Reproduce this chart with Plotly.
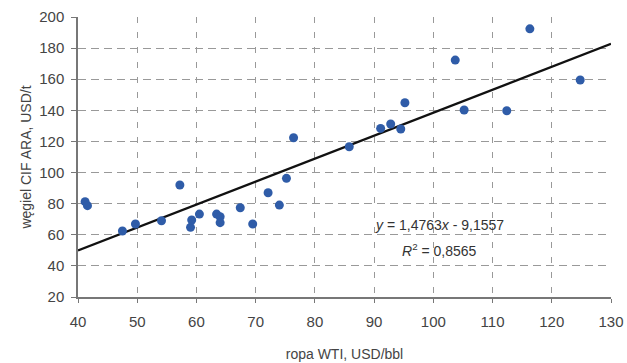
import plotly.graph_objects as go

# Data
oil_wti = [41.2, 41.6, 47.5, 49.7, 54.1, 57.2, 59.0, 59.2, 60.5, 63.4, 64.0, 64.0,
           67.4, 69.5, 72.1, 74.0, 75.2, 76.4, 85.8, 91.1, 92.8, 94.5, 95.2,
           103.7, 105.2, 112.4, 116.3, 124.8]
coal_cif = [81.3, 78.7, 62.4, 66.9, 69.0, 92.0, 64.8, 69.5, 73.3, 73.3, 71.6, 67.8,
            77.4, 66.9, 87.0, 79.1, 96.3, 122.4, 116.6, 128.4, 131.2, 128.0, 144.9,
            172.3, 140.2, 139.7, 192.4, 159.5]

slope = 1.4763
intercept = -9.1557
r_squared = 0.8565
trend_x = [40, 130]
trend_y = [slope * v + intercept for v in trend_x]

x_ticks = [40, 50, 60, 70, 80, 90, 100, 110, 120, 130]
y_ticks = [20, 40, 60, 80, 100, 120, 140, 160, 180, 200]

FONT = "Liberation Sans, Arial, sans-serif"

fig = go.Figure()
fig.add_trace(go.Scatter(
    x=trend_x, y=trend_y, mode="lines",
    line=dict(color="#111111", width=2.2), showlegend=False, hoverinfo="skip"))
fig.add_trace(go.Scatter(
    x=oil_wti, y=coal_cif, mode="markers",
    marker=dict(color="#2F5CA8", size=9), showlegend=False))

fig.add_annotation(x=101, y=66.3, xref="x", yref="y", showarrow=False,
                   text="<i>y</i> = 1,4763<i>x</i> - 9,1557",
                   font=dict(family=FONT, size=14, color="#333333"))
fig.add_annotation(x=101, y=50.2, xref="x", yref="y", showarrow=False,
                   text="<i>R</i><sup>2</sup> = 0,8565",
                   font=dict(family=FONT, size=14, color="#333333"))

fig.update_layout(
    width=627, height=363,
    margin=dict(l=78, r=16, t=17, b=66, autoexpand=False),
    paper_bgcolor="white", plot_bgcolor="white",
    font=dict(family=FONT, size=15, color="#444444"),
    xaxis=dict(
        range=[40, 130], tickvals=x_ticks, ticktext=[str(v) for v in x_ticks],
        showgrid=True, gridcolor="#999999", gridwidth=1, griddash="6px,9px",
        showline=True, linecolor="#777777", linewidth=1.5,
        ticks="outside", ticklen=4, tickcolor="#777777",
        zeroline=False, mirror=False, automargin=False,
        ticklabelstandoff=6,
        title=dict(text="ropa WTI, USD/bbl", font=dict(size=14, color="#444444"), standoff=20),
        tickfont=dict(size=15, color="#444444"),
    ),
    yaxis=dict(
        range=[20, 200], tickvals=y_ticks, ticktext=[str(v) for v in y_ticks],
        showgrid=True, gridcolor="#999999", gridwidth=1, griddash="8px,5px",
        showline=True, linecolor="#777777", linewidth=1.5,
        ticks="outside", ticklen=5, tickcolor="#777777",
        zeroline=False, automargin=False,
        ticklabelstandoff=4,
        title=dict(text="węgiel CIF ARA, USD/t", font=dict(size=14, color="#444444"), standoff=4),
        tickfont=dict(size=15, color="#444444"),
    ),
)

fig.write_html("out.html")
